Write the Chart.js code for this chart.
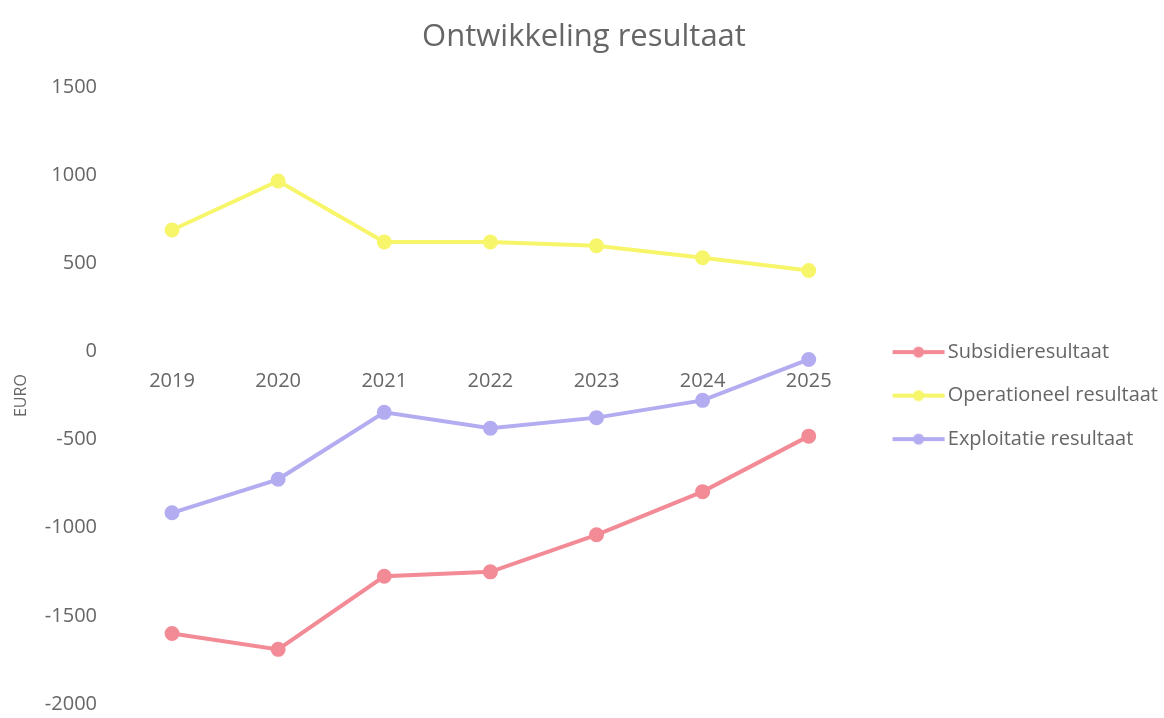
<!DOCTYPE html>
<html lang="nl">
<head>
<meta charset="UTF-8">
<script src="https://cdn.jsdelivr.net/npm/chart.js"></script>
<title>Ontwikkeling resultaat</title>
<style>
  body { margin: 0; background: #fff; }
  #wrap { width: 1164px; height: 718px; }
</style>
</head>
<body>
<div id="wrap"><canvas id="grafiek"></canvas></div>
<script>
const jaren = ['2019', '2020', '2021', '2022', '2023', '2024', '2025'];
const subsidieresultaat = [-1600, -1690, -1275, -1250, -1040, -795, -480];
const operationeelResultaat = [690, 968, 622, 622, 600, 532, 460];
const exploitatieResultaat = [-915, -725, -345, -435, -375, -277, -45];
const yTicks = [1500, 1000, 500, 0, -500, -1000, -1500, -2000];

const rood = '#f28b96';
const geel = '#f7f56a';
const paars = '#b4acf0';
const tekst = '#666666';
const lettertype = "'Open Sans', sans-serif";

// icoontje voor de legenda: lijn met bolletje (iets naar rechts geschoven)
function legendIcon(kleur) {
    const c = document.createElement('canvas');
    c.width = 70; c.height = 14;
    const g = c.getContext('2d');
    g.strokeStyle = kleur; g.lineWidth = 4;
    g.beginPath(); g.moveTo(16, 7); g.lineTo(68, 7); g.stroke();
    g.fillStyle = kleur;
    g.beginPath(); g.arc(42, 7, 5.5, 0, Math.PI * 2); g.fill();
    return c;
}

function lijn(label, data, kleur) {
    return {
        label: label,
        data: data,
        borderColor: kleur,
        backgroundColor: kleur,
        pointBackgroundColor: kleur,
        pointBorderColor: kleur,
        borderWidth: 4,
        pointRadius: 5.5,
        pointHoverRadius: 5.5,
        tension: 0
    };
}

const config = {
    type: 'line',
    data: {
        labels: jaren,
        datasets: [
            lijn('Subsidieresultaat', subsidieresultaat, rood),
            lijn('Operationeel resultaat', operationeelResultaat, geel),
            lijn('Exploitatie resultaat', exploitatieResultaat, paars)
        ]
    },
    options: {
        responsive: true,
        maintainAspectRatio: false,
        animation: false,
        layout: { padding: { top: 4, bottom: 14, left: 0, right: -4 } },
        scales: {
            x: {
                position: { y: 0 },
                offset: true,
                grid: { display: false },
                border: { display: false },
                ticks: { color: tekst, padding: 10, font: { family: lettertype, size: 20 } },
                afterFit: function (scale) { scale.height = 0; }
            },
            y: {
                min: -2000,
                max: 1500,
                grid: { display: false },
                border: { display: false },
                afterBuildTicks: function (scale) {
                    scale.ticks = yTicks.map(v => ({ value: v }));
                },
                afterFit: function (scale) {
                    scale.width = 119;
                    scale.paddingTop = 0;
                    scale.paddingBottom = 0;
                },
                ticks: {
                    color: tekst,
                    padding: 14,
                    font: { family: lettertype, size: 20 },
                    callback: v => String(v)
                },
                title: {
                    display: true,
                    text: 'EURO',
                    color: tekst,
                    padding: { top: 12, bottom: 4 },
                    font: { family: lettertype, size: 16 }
                }
            }
        },
        plugins: {
            title: {
                display: true,
                text: 'Ontwikkeling resultaat',
                color: tekst,
                padding: { top: 15, bottom: 31 },
                font: { family: lettertype, size: 31, weight: 'normal' }
            },
            legend: {
                position: 'right',
                fullSize: false,
                maxWidth: 340,
                labels: {
                    color: tekst,
                    usePointStyle: true,
                    pointStyleWidth: 52.5,
                    padding: 23.5,
                    font: { family: lettertype, size: 20 },
                    generateLabels: function (chart) {
                        const items = Chart.defaults.plugins.legend.labels.generateLabels(chart);
                        items.forEach(function (item) {
                            item.pointStyle = legendIcon(chart.data.datasets[item.datasetIndex].borderColor);
                        });
                        return items;
                    }
                }
            },
            tooltip: { enabled: false }
        }
    }
};

let ctx = document.getElementById('grafiek').getContext('2d');
let grafiek = new Chart(ctx, config);
</script>
</body>
</html>
